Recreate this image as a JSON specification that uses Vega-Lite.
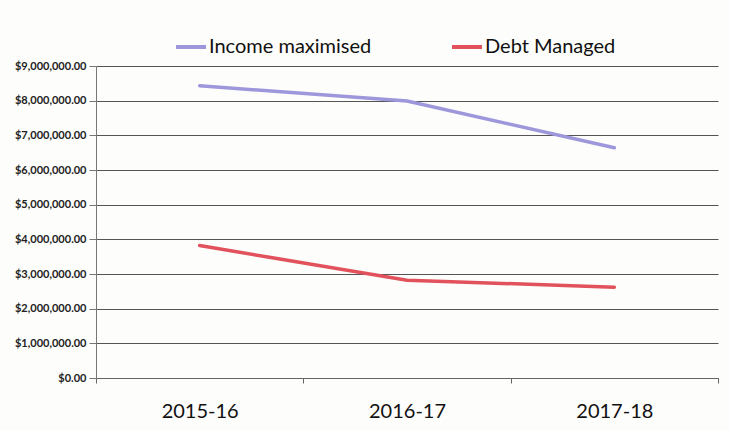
{
  "$schema": "https://vega.github.io/schema/vega-lite/v6.json",
  "width": 622,
  "height": 312,
  "autosize": "none",
  "padding": {"left": 96, "top": 66, "right": 12, "bottom": 52},
  "background": "#fdfdfb",
  "config": {
    "font": "Lato",
    "view": {"stroke": null}
  },
  "data": {
    "values": [
      {"year": "2015-16", "series": "Income maximised", "value": 8430000},
      {"year": "2016-17", "series": "Income maximised", "value": 7990000},
      {"year": "2017-18", "series": "Income maximised", "value": 6640000},
      {"year": "2015-16", "series": "Debt Managed", "value": 3820000},
      {"year": "2016-17", "series": "Debt Managed", "value": 2820000},
      {"year": "2017-18", "series": "Debt Managed", "value": 2620000}
    ]
  },
  "mark": {"type": "line", "strokeWidth": 3.5, "strokeCap": "round"},
  "encoding": {
    "x": {
      "field": "year",
      "type": "ordinal",
      "title": null,
      "scale": {"type": "band", "paddingInner": 0, "paddingOuter": 0},
      "axis": {
        "labelAngle": 0,
        "labelFontSize": 20,
        "labelColor": "#111",
        "labelPadding": 18,
        "tickBand": "extent",
        "tickSize": 5,
        "tickColor": "#666",
        "domainColor": "#666",
        "grid": false
      }
    },
    "y": {
      "field": "value",
      "type": "quantitative",
      "title": null,
      "scale": {"domain": [0, 9000000], "nice": false},
      "axis": {
        "values": [0, 1000000, 2000000, 3000000, 4000000, 5000000, 6000000, 7000000, 8000000, 9000000],
        "format": "$,.2f",
        "labelFontSize": 11,
        "labelFontWeight": "bold",
        "labelColor": "#222",
        "labelPadding": 3,
        "tickSize": 7,
        "tickColor": "#777",
        "domainColor": "#777",
        "gridColor": "#555",
        "gridWidth": 1
      }
    },
    "color": {
      "field": "series",
      "type": "nominal",
      "sort": ["Income maximised", "Debt Managed"],
      "scale": {"domain": ["Income maximised", "Debt Managed"], "range": ["#9d97db", "#e2525c"]},
      "legend": {
        "title": null,
        "orient": "none",
        "direction": "horizontal",
        "legendX": 78,
        "legendY": -36,
        "symbolType": "stroke",
        "symbolSize": 900,
        "symbolStrokeWidth": 4,
        "labelFontSize": 20,
        "labelLimit": 400,
        "labelColor": "#111",
        "labelOffset": 1,
        "columnPadding": 72
      }
    }
  }
}
